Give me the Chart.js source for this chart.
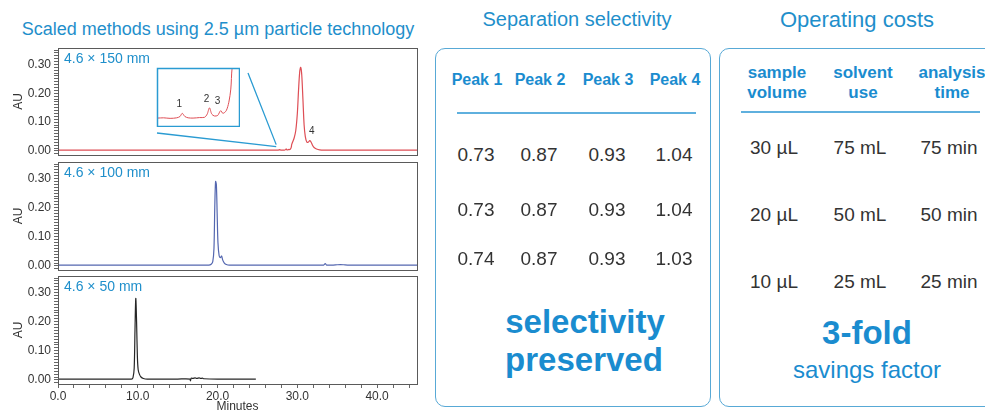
<!DOCTYPE html>
<html>
<head>
<meta charset="utf-8">
<script src="https://cdn.jsdelivr.net/npm/chart.js@4.4.1/dist/chart.umd.min.js"></script>
<style>
  html, body { margin: 0; padding: 0; background: #fff; }
  body { width: 985px; height: 414px; position: relative; overflow: hidden; font-family: "Liberation Sans", Arial, sans-serif; }
  .abs { position: absolute; }
  .title { color: #1f8fcb; white-space: nowrap; transform: translateX(-50%); }
  .box { position: absolute; border: 1.5px solid #58a9d6; border-radius: 10px; box-sizing: border-box; }
  .c { position: absolute; transform: translate(-50%, -50%); white-space: nowrap; text-align: center; }
  .hd { color: #1a8ccf; font-weight: bold; font-size: 16px; line-height: 20px; }
  .val { color: #333; font-size: 19px; }
  .big { color: #1a8ccf; font-weight: bold; font-size: 33px; }
  .rule { position: absolute; height: 1.5px; background: #5fb0de; }
</style>
</head>
<body>
<div class="abs title" style="left:218px; top:19px; font-size:18px;">Scaled methods using 2.5 µm particle technology</div>
<div class="abs title" style="left:577px; top:8px; font-size:20px;">Separation selectivity</div>
<div class="abs title" style="left:857px; top:7px; font-size:22px;">Operating costs</div>

<div class="abs" style="left:0; top:44px; width:420px; height:115px;"><canvas id="p150"></canvas></div>
<div class="abs" style="left:0; top:158px; width:420px; height:116px;"><canvas id="p100"></canvas></div>
<div class="abs" style="left:0; top:272px; width:420px; height:142px;"><canvas id="p50"></canvas></div>
<div class="abs" style="left:156px; top:67px; width:84px; height:60px;"><canvas id="inset"></canvas></div>

<div class="box" id="selBox" style="left:435px; top:48px; width:276px; height:359px;"></div>
<div class="box" id="costBox" style="left:719px; top:48px; width:290px; height:359px;"></div>

<script>
// chromatogram traces (minutes, AU)
const t150 = [0, 10, 20, 27.0, 27.2, 27.4, 27.6, 27.7, 27.77, 27.85, 27.95, 28.1, 28.3, 28.45, 28.53, 28.6, 28.67, 28.75, 28.85, 28.94, 29.01, 29.11, 29.19, 29.25, 29.29, 29.4, 29.6, 29.8, 30.0, 30.15, 30.3, 30.42, 30.55, 30.7, 30.85, 31.0, 31.2, 31.4, 31.55, 31.7, 31.9, 32.1, 32.4, 32.8, 33.3, 40, 45];
const au150 = [0.003, 0.003, 0.003, 0.0030, 0.0031, 0.0029, 0.0031, 0.0036, 0.0048, 0.0036, 0.0031, 0.0030, 0.0032, 0.0033, 0.0045, 0.0069, 0.0045, 0.0038, 0.0040, 0.0058, 0.0048, 0.0058, 0.009, 0.014, 0.022, 0.03, 0.045, 0.07, 0.13, 0.21, 0.275, 0.29, 0.265, 0.18, 0.09, 0.05, 0.03, 0.031, 0.036, 0.032, 0.02, 0.012, 0.007, 0.004, 0.003, 0.003, 0.003];

const t100 = [0, 10, 18.9, 19.2, 19.4, 19.55, 19.65, 19.75, 19.85, 19.95, 20.05, 20.2, 20.35, 20.5, 20.65, 20.85, 21.1, 21.5, 25, 33.3, 33.5, 33.65, 33.8, 34.5, 35.0, 35.4, 35.8, 36.3, 40, 45];
const au100 = [0.003, 0.003, 0.003, 0.006, 0.015, 0.06, 0.2, 0.29, 0.28, 0.18, 0.08, 0.035, 0.028, 0.034, 0.02, 0.01, 0.005, 0.003, 0.003, 0.003, 0.008, 0.003, 0.0025, 0.003, 0.004, 0.0045, 0.004, 0.003, 0.003, 0.003];

const t50 = [0, 5, 9.2, 9.4, 9.55, 9.65, 9.75, 9.85, 9.95, 10.05, 10.2, 10.4, 10.7, 11.2, 15, 16.55, 16.6, 16.7, 16.9, 17.2, 17.4, 17.7, 17.9, 18.1, 18.3, 20, 24.8];
const au50 = [0.003, 0.003, 0.003, 0.008, 0.04, 0.17, 0.28, 0.2, 0.08, 0.035, 0.02, 0.01, 0.005, 0.003, 0.003, 0.003, -0.003, 0.006, 0.005, 0.007, 0.005, 0.007, 0.005, 0.006, 0.004, 0.003, 0.003];

// peak labels: [label, minutes, AU]
const insetPeaks = [['1', 27.77, 0.0048], ['2', 28.6, 0.0069], ['3', 28.94, 0.0058]];
const mainPeaks = [['4', 31.55, 0.036]];

// tables
const selHeaders = ['Peak 1', 'Peak 2', 'Peak 3', 'Peak 4'];
const selRows = [
  [0.73, 0.87, 0.93, 1.04],
  [0.73, 0.87, 0.93, 1.04],
  [0.74, 0.87, 0.93, 1.03]
];
const costHeaders = [['sample', 'volume'], ['solvent', 'use'], ['analysis', 'time']];
const costRows = [
  ['30 µL', '75 mL', '75 min'],
  ['20 µL', '50 mL', '50 min'],
  ['10 µL', '25 mL', '25 min']
];

const RED = '#de4e55';
const BLUE = '#5467b0';
const BLACK = '#262626';
const CYAN = '#2a9bd2';
const FRAME = '#5a5a5a';
const TXT = '#333';

const INSET = { left: 157, top: 68, right: 239, bottom: 126 };

function pts(ts, ys) { return ts.map((t, i) => ({ x: t, y: ys[i] })); }

const framePlugin = {
  id: 'frame',
  afterDraw(chart, args, opts) {
    const { ctx, chartArea: a } = chart;
    ctx.save();
    ctx.strokeStyle = opts.color || FRAME;
    ctx.lineWidth = opts.width || 1;
    ctx.strokeRect(Math.round(a.left) + 0.5, Math.round(a.top) + 0.5, Math.round(a.right - a.left), Math.round(a.bottom - a.top));
    ctx.restore();
  }
};

const labelPlugin = {
  id: 'peakLabels',
  afterDatasetsDraw(chart, args, opts) {
    if (!opts.items) return;
    const { ctx, scales } = chart;
    ctx.save();
    ctx.fillStyle = TXT;
    ctx.font = (opts.size || 10) + 'px "Liberation Sans", Arial, sans-serif';
    ctx.textAlign = 'center';
    ctx.textBaseline = 'bottom';
    opts.items.forEach(([lab, x, y]) => {
      ctx.fillText(lab, scales.x.getPixelForValue(x) + (opts.dx || 0), scales.y.getPixelForValue(y) - (opts.dy || 4));
    });
    ctx.restore();
  }
};

// connector lines from inset to the zoomed region of the 150 mm trace
const zoomLines = {
  id: 'zoomLines',
  afterDraw(chart) {
    if (chart.canvas.id !== 'p150') return;
    const { ctx, scales } = chart;
    const oy = 44;
    const tx = scales.x.getPixelForValue(27.35);
    const ty = scales.y.getPixelForValue(0.022);
    ctx.save();
    ctx.strokeStyle = CYAN;
    ctx.lineWidth = 1.3;
    ctx.beginPath();
    ctx.moveTo(INSET.left, INSET.bottom + 7 - oy);
    ctx.lineTo(tx, ty + 2);
    ctx.moveTo(INSET.right + 9, INSET.top + 5 - oy);
    ctx.lineTo(tx, ty);
    ctx.stroke();
    ctx.restore();
  }
};

function noPad(s) { s.paddingTop = 0; s.paddingBottom = 0; s.paddingLeft = 0; s.paddingRight = 0; }

function yAxis() {
  return {
    min: -0.014, max: 0.357,
    border: { display: false },
    grid: { drawOnChartArea: false, drawTicks: true, tickLength: 4, color: '#666', tickColor: '#666' },
    ticks: {
      stepSize: 0.01, autoSkip: false, includeBounds: false, padding: 3,
      color: TXT, font: { size: 12 },
      callback: (v) => Math.abs(v * 10 - Math.round(v * 10)) < 1e-6 ? v.toFixed(2) : ''
    },
    title: { display: true, text: 'AU', color: TXT, font: { size: 12 }, padding: { top: 11, bottom: 0 } },
    afterFit: (s) => { s.width = 58; noPad(s); }
  };
}

function panel(id, ts, ys, color, showX, label, extra) {
  const x = showX ? {
    type: 'linear', min: 0, max: 45,
    border: { display: false },
    grid: { drawOnChartArea: false, drawTicks: true, tickLength: 4, color: '#666', tickColor: '#666' },
    ticks: {
      stepSize: 2, autoSkip: false, includeBounds: false, padding: 1, maxRotation: 0,
      color: TXT, font: { size: 12 },
      callback: (v) => v % 10 === 0 ? v.toFixed(1) : ''
    },
    title: { display: true, text: 'Minutes', color: TXT, font: { size: 12 }, padding: { top: 0, bottom: 0 } },
    afterFit: (s) => { s.height = 30; noPad(s); }
  } : { type: 'linear', min: 0, max: 45, display: false };

  return new Chart(document.getElementById(id), {
    type: 'line',
    data: { datasets: [{ data: pts(ts, ys), borderColor: color, borderWidth: 1.2, pointRadius: 0, tension: 0.3, fill: false }] },
    options: {
      responsive: true, maintainAspectRatio: false, animation: false,
      layout: { padding: { top: 4, bottom: showX ? 0 : 4, right: 3, left: 0 } },
      scales: { x, y: yAxis() },
      plugins: {
        legend: { display: false }, tooltip: { enabled: false },
        title: { display: false },
        peakLabels: extra || {},
        panelTag: { text: label }
      }
    },
    plugins: [framePlugin, labelPlugin, zoomLines, {
      id: 'panelTag',
      afterDraw(chart, args, opts) {
        const { ctx, chartArea: a } = chart;
        ctx.save();
        ctx.fillStyle = '#1f8fcb';
        ctx.font = '14px "Liberation Sans", Arial, sans-serif';
        ctx.textBaseline = 'top';
        ctx.fillText(opts.text, a.left + 6, a.top + 4);
        ctx.restore();
      }
    }]
  });
}

Chart.defaults.font.family = '"Liberation Sans", Arial, sans-serif';

panel('p150', t150, au150, RED, false, '4.6 × 150 mm', { items: mainPeaks, size: 10, dx: 2, dy: 4 });
panel('p100', t100, au100, BLUE, false, '4.6 × 100 mm');
panel('p50', t50, au50, BLACK, true, '4.6 × 50 mm');

new Chart(document.getElementById('inset'), {
  type: 'line',
  data: { datasets: [{ data: pts(t150, au150), borderColor: RED, borderWidth: 1, pointRadius: 0, tension: 0.3 }] },
  options: {
    responsive: true, maintainAspectRatio: false, animation: false,
    layout: { padding: 1 },
    scales: {
      x: { type: 'linear', min: 27.0, max: 29.5, display: false },
      y: { min: 0.0, max: 0.022, display: false }
    },
    plugins: {
      legend: { display: false }, tooltip: { enabled: false },
      frame: { color: CYAN, width: 1.5 },
      peakLabels: { items: insetPeaks, size: 10, dx: -3, dy: 4 }
    }
  },
  plugins: [framePlugin, labelPlugin]
});

// tables in the two rounded boxes
function put(parent, cls, text, x, y, style) {
  const d = document.createElement('div');
  d.className = 'c ' + cls;
  d.innerHTML = text;
  d.style.left = x + 'px';
  d.style.top = y + 'px';
  if (style) d.style.cssText += style;
  parent.appendChild(d);
}

const body = document.body;
const selX = [477, 540, 608, 675];
const selY = [155, 210, 259];
selHeaders.forEach((h, i) => put(body, 'hd', h, selX[i], 80));
const r1 = document.createElement('div');
r1.className = 'rule'; r1.style.cssText = 'left:457px; top:112px; width:239px;';
body.appendChild(r1);
selRows.forEach((row, j) => row.forEach((v, i) => put(body, 'val', v.toFixed(2), selX[i] - 1, selY[j])));
put(body, 'big', 'selectivity', 585, 322);
put(body, 'big', 'preserved', 584, 360);

const costX = [777, 863, 952];
const costY = [148, 215, 282];
costHeaders.forEach((h, i) => put(body, 'hd', h.join('<br>'), costX[i], 83, 'font-size:17px;'));
const r2 = document.createElement('div');
r2.className = 'rule'; r2.style.cssText = 'left:741px; top:111px; width:239px;';
body.appendChild(r2);
costRows.forEach((row, j) => row.forEach((v, i) => put(body, 'val', v, costX[i] - 3, costY[j])));
put(body, 'big', '3-fold', 867, 333);
put(body, 'hd', 'savings factor', 867, 370, 'font-weight:normal; font-size:24px; line-height:28px;');
</script>
</body>
</html>
